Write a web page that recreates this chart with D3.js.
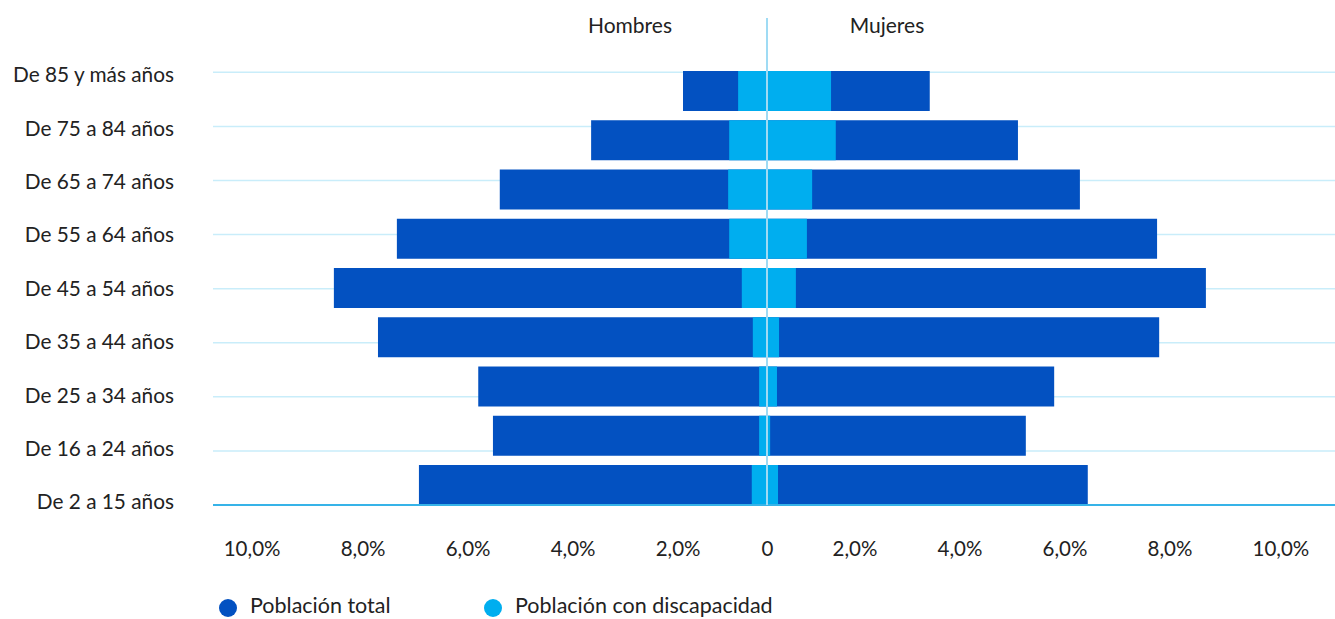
<!DOCTYPE html>
<html>
<head>
<meta charset="utf-8">
<script src="https://cdn.jsdelivr.net/npm/d3@7"></script>
<style>
  body { margin: 0; background: #fff; }
  svg { display: block; font-family: Lato, sans-serif; }
</style>
</head>
<body>
<div class="pyramid"></div>
<script>
// age groups, top to bottom
const ages = ['De 85 y más años', 'De 75 a 84 años', 'De 65 a 74 años', 'De 55 a 64 años',
  'De 45 a 54 años', 'De 35 a 44 años', 'De 25 a 34 años', 'De 16 a 24 años', 'De 2 a 15 años']

// % values
const menTotal = [1.60, 3.35, 5.09, 7.05, 8.25, 7.41, 5.50, 5.22, 6.63]
const menDisab = [0.55, 0.72, 0.74, 0.72, 0.48, 0.27, 0.15, 0.15, 0.29]
const womenTotal = [3.10, 4.78, 5.96, 7.43, 8.36, 7.47, 5.47, 4.93, 6.11]
const womenDisab = [1.22, 1.31, 0.86, 0.76, 0.55, 0.23, 0.19, 0.06, 0.21]

const tickVals = [-10, -8, -6, -4, -2, 0, 2, 4, 6, 8, 10]
const sides = ['Hombres', 'Mujeres']
const legendItems = ['Población total', 'Población con discapacidad']

const darkBlue = '#0351c1'
const lightBlue = '#00aeef'

let width = 1335
let height = 619

const svg = d3.select('.pyramid').append('svg')
  .attr('width', width)
  .attr('height', height)

const x = d3.scaleLinear().domain([-10, 10]).range([242, 1292])
const yBar = d3.scaleBand().domain(ages).range([71, 505]).paddingInner(0.188).paddingOuter(0)
const yGrid = d3.scalePoint().domain(ages).range([72.3, 505])
const yLabel = d3.scalePoint().domain(ages).range([75, 502])

// gridlines
svg.append('g')
  .selectAll('line')
  .data(ages.slice(0, -1))
  .join('line')
    .attr('x1', 213).attr('x2', width)
    .attr('y1', d => yGrid(d)).attr('y2', d => yGrid(d))
    .attr('stroke', '#c9edfa')
    .attr('stroke-width', 1.5)

// category labels
svg.append('g')
  .selectAll('text')
  .data(ages)
  .join('text')
    .attr('x', 174)
    .attr('y', d => yLabel(d))
    .attr('dy', '0.35em')
    .attr('text-anchor', 'end')
    .attr('font-size', 20.8)
    .attr('fill', '#222')
    .text(d => d)

const rows = ages.map((a, i) => ({
  age: a, mt: menTotal[i], md: menDisab[i], wt: womenTotal[i], wd: womenDisab[i]
}))

const bars = svg.append('g')
const addBars = (key, sign, color) => {
  bars.append('g').selectAll('rect')
    .data(rows)
    .join('rect')
      .attr('x', d => sign < 0 ? x(-d[key]) : x(0))
      .attr('width', d => x(d[key]) - x(0))
      .attr('y', d => yBar(d.age))
      .attr('height', yBar.bandwidth())
      .attr('fill', color)
}
addBars('mt', -1, darkBlue)
addBars('wt', 1, darkBlue)
addBars('md', -1, lightBlue)
addBars('wd', 1, lightBlue)

// bottom axis line
svg.append('line')
  .attr('x1', 213).attr('x2', width)
  .attr('y1', 505).attr('y2', 505)
  .attr('stroke', '#36b3e8')
  .attr('stroke-width', 2)

// center line
svg.append('line')
  .attr('x1', x(0)).attr('x2', x(0))
  .attr('y1', 18).attr('y2', 505)
  .attr('stroke', '#9fdbf4')
  .attr('stroke-width', 2)

// x axis labels
const fmt = v => v === 0 ? '0' : d3.format('.1f')(Math.abs(v)).replace('.', ',') + '%'
const xAxis = svg.append('g')
  .attr('transform', 'translate(0,505)')
  .call(d3.axisBottom(x).tickValues(tickVals).tickFormat(fmt).tickSize(0).tickPadding(0))
xAxis.select('.domain').remove()
xAxis.selectAll('text')
  .attr('y', 51)
  .attr('dy', 0)
  .attr('font-family', 'Lato, sans-serif')
  .attr('font-size', 20.5)
  .attr('fill', '#222')
  .attr('text-anchor', d => d < 0 ? 'end' : d > 0 ? 'start' : 'middle')
  .attr('dx', d => d < 0 ? 38 : d > 0 ? -40 : 0)

// side titles
svg.append('g')
  .selectAll('text')
  .data(sides)
  .join('text')
    .attr('x', (d, i) => i === 0 ? 630 : 887)
    .attr('y', 33)
    .attr('text-anchor', 'middle')
    .attr('font-size', 21)
    .attr('fill', '#222')
    .text(d => d)

// legend
const legend = svg.append('g')
  .selectAll('g')
  .data(legendItems)
  .join('g')
    .attr('transform', (d, i) => `translate(${i === 0 ? 228 : 493},608)`)
legend.append('circle')
  .attr('r', 9)
  .attr('fill', (d, i) => i === 0 ? darkBlue : lightBlue)
legend.append('text')
  .attr('x', 22)
  .attr('y', -3)
  .attr('dy', '0.35em')
  .attr('font-size', 21.5)
  .attr('fill', '#222')
  .text(d => d)
</script>
</body>
</html>
